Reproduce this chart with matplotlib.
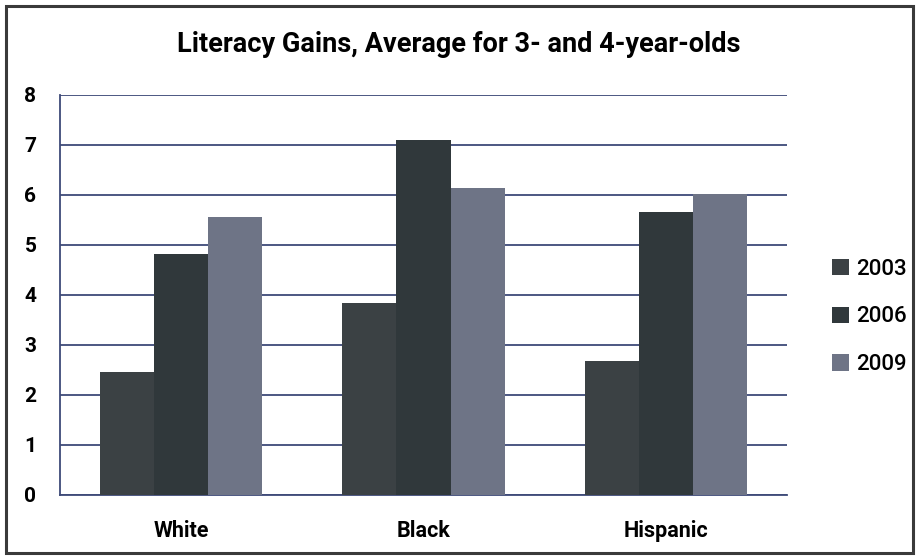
import matplotlib.pyplot as plt
import numpy as np
from matplotlib.patches import Rectangle

categories = ["White", "Black", "Hispanic"]
years = ["2003", "2006", "2009"]
gains_2003 = [2.47, 3.84, 2.69]
gains_2006 = [4.83, 7.11, 5.67]
gains_2009 = [5.57, 6.15, 6.02]

colors = ["#3b4144", "#30383b", "#6e7486"]
grid_color = "#3e4a78"

plt.rcParams['font.family'] = ['Roboto', 'DejaVu Sans']

fig = plt.figure(figsize=(9.17, 5.56), dpi=100)
fig.patch.set_facecolor("white")
fig.patches.append(Rectangle((0.006, 0.005), 0.99, 0.985, transform=fig.transFigure,
                             fill=False, edgecolor="#3a3a3a", linewidth=2.2))

ax = fig.add_axes([60 / 917, 1 - 495 / 556, 727 / 917, 400 / 556])
x = np.arange(len(categories))
w = 0.223
for i, (vals, c, lab) in enumerate(zip([gains_2003, gains_2006, gains_2009], colors, years)):
    ax.bar(x + (i - 1) * w, vals, width=w, color=c, label=lab, zorder=3)

ax.set_xlim(-0.5, 2.5)
ax.set_ylim(0, 8)
ax.set_yticks(range(0, 9))
ax.yaxis.grid(True, color=grid_color, linewidth=1.3, zorder=0)
ax.set_xticks(x)
ax.set_xticklabels(categories, fontsize=15.5, fontweight="bold")
ax.tick_params(axis="y", labelsize=15, length=0, pad=17)
ax.tick_params(axis="x", length=0, pad=18)
for lbl in ax.get_yticklabels():
    lbl.set_fontweight("bold")
for s in ["top", "right"]:
    ax.spines[s].set_visible(False)
ax.spines["left"].set_color(grid_color)
ax.spines["bottom"].set_color(grid_color)
ax.spines["left"].set_linewidth(1.3)
ax.spines["bottom"].set_linewidth(1.3)

fig.text(0.5, 1 - 45 / 556, "Literacy Gains, Average for 3- and 4-year-olds",
         ha="center", va="center", fontsize=19.5, fontweight="bold")

leg = ax.legend(loc="center left", bbox_to_anchor=(1.035, 0.445), frameon=False,
                prop={"size": 16, "weight": "medium"}, handlelength=0.75,
                handleheight=0.75, handletextpad=0.3, labelspacing=1.2)

fig.savefig("out.png", dpi=100)
